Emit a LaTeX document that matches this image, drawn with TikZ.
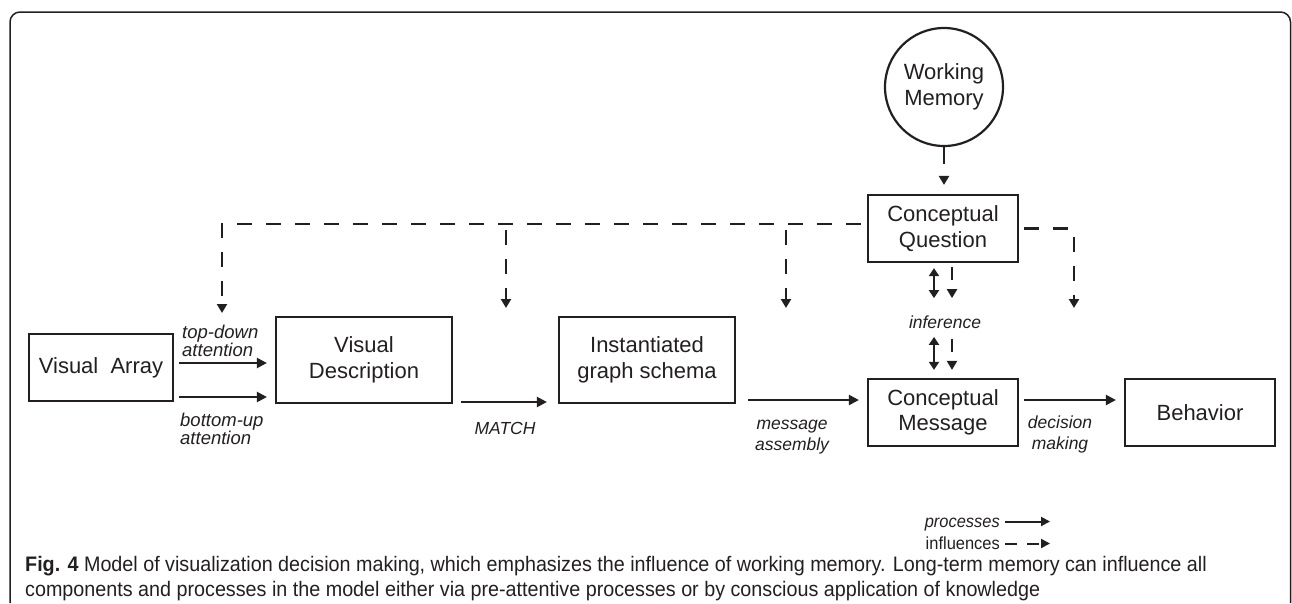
\documentclass[tikz,border=0pt]{standalone}
\usepackage{fontspec}
\setmainfont{Liberation Sans}
\newfontfamily\capfont[FakeStretch=0.94]{Liberation Sans}
\usetikzlibrary{arrows.meta,calc}
\definecolor{ink}{HTML}{231F20}
\begin{document}
\begin{tikzpicture}[x=1pt,y=-1pt,
  box/.style={draw=ink,line width=2.2pt,text=ink,align=center,inner sep=0pt,
    font=\fontsize{22}{25.5}\selectfont},
  lbl/.style={text=ink,inner sep=0pt,font=\fontsize{17.5}{21}\selectfont\itshape},
  tight/.style={font=\fontsize{18.5}{17}\selectfont\itshape},
  leg/.style={text=ink,inner sep=0pt,font=\capfont\fontsize{17.5}{20}\selectfont},
  proc/.style={draw=ink,line width=2.2pt,-{Triangle[length=10pt,width=10pt]}},
  infl/.style={draw=ink,line width=2.2pt,dash pattern=on 15pt off 14pt,-{Triangle[length=9pt,width=10pt]}},
  dbl/.style={draw=ink,line width=2.2pt,{Triangle[length=8pt,width=10pt]}-{Triangle[length=8pt,width=10pt]}}]
\useasboundingbox (0,0) rectangle (1292,603);
% frame
\draw[ink,line width=1.5pt,rounded corners=10pt] (10,603) -- (10,12) -- (1290.5,12) -- (1290.5,603);

% nodes
\node[box,minimum width=144pt,minimum height=67pt] (va) at (101,367.5) {Visual\ \ Array};
\node[box,minimum width=176pt,minimum height=86pt] (vd) at (364,360) {Visual\\Description};
\node[box,minimum width=176pt,minimum height=86pt] (igs) at (647,360) {Instantiated\\graph schema};
\node[box,minimum width=150pt,minimum height=67pt] (cq) at (943,228.5) {Conceptual\\Question};
\node[box,minimum width=150pt,minimum height=67pt] (cm) at (943,412.5) {Conceptual\\Message};
\node[box,minimum width=150pt,minimum height=67pt] (beh) at (1200,412.5) {Behavior};
\node[box,circle,minimum size=118pt] (wm) at (944,87) {Working\\Memory};

% labels
\node[lbl,tight,align=left,anchor=west] (ltd) at (182,341) {top-down\\attention};
\node[lbl,tight,align=left,anchor=west] (lbu) at (180,429) {bottom-up\\attention};
\node[lbl] (lm) at (505,428) {MATCH};
\node[lbl,align=center] (lma) at (792,437) {message\\assembly};
\node[lbl] (linf) at (945,322) {inference};
\node[lbl,align=center] (ldm) at (1060,434) {decision\\making};

% process arrows
\coordinate (yTD) at (0,363);
\coordinate (yBU) at (0,397);
\coordinate (yM) at (0,402);
\coordinate (yA) at (0,400);
\draw[proc] ($(va.east|-yTD)+(5,0)$) -- ($(vd.west|-yTD)+(-8,0)$);
\draw[proc] ($(va.east|-yBU)+(5,0)$) -- ($(vd.west|-yBU)+(-8,0)$);
\draw[proc] ($(vd.east|-yM)+(8,0)$) -- ($(igs.west|-yM)+(-11,0)$);
\draw[proc] ($(igs.east|-yA)+(12,0)$) -- ($(cm.west|-yA)+(-8,0)$);
\draw[proc] ($(cm.east|-yA)+(5,0)$) -- ($(beh.west|-yA)+(-8,0)$);

% inference double arrows
\coordinate (xL) at (934,0);
\coordinate (xR) at (952,0);
\draw[dbl] ($(cq.south-|xL)+(0,5)$) -- ($(cq.south-|xL)+(0,35)$);
\draw[dbl] ($(cm.north-|xL)+(0,-41)$) -- ($(cm.north-|xL)+(0,-8)$);
\draw[infl,dash pattern=on 13pt off 20pt] ($(cq.south-|xR)+(0,4)$) -- ($(cq.south-|xR)+(0,35)$);
\draw[infl,dash pattern=on 13pt off 20pt] ($(cm.north-|xR)+(0,-39)$) -- ($(cm.north-|xR)+(0,-8)$);

% working memory influence
\draw[infl,dash pattern=on 17pt off 20pt] (wm.south) -- ($(cq.north-|wm.south)+(0,-9)$);

% influence network
\coordinate (hy) at (0,224);
\coordinate (t1) at (222,313);
\coordinate (t2) at (506,308);
\coordinate (t3) at (786,308);
\coordinate (t4) at (1074,308);
\draw[infl] ($(cq.west|-hy)+(-6,0)$) -| (t1);
\draw[infl] ($(t2|-hy)+(0,6)$) -- (t2);
\draw[infl] ($(t3|-hy)+(0,6)$) -- (t3);
\draw[infl] ($(cq.east)+(5,0)$) -| (t4);

% legend
\node[leg,font=\capfont\fontsize{17.5}{20}\selectfont\itshape,anchor=base east] (lp) at (1000,527) {processes};
\node[leg,anchor=base east] (li) at (1000,549) {influences};
\draw[proc,line width=2pt,-{Triangle[length=9pt,width=9pt]}] ($(lp.base east)+(5,-5.5)$) -- ($(lp.base east)+(50,-5.5)$);
\draw[infl,line width=2pt,dash pattern=on 12pt off 10pt,-{Triangle[length=9pt,width=9pt]}] ($(li.base east)+(5,-5.5)$) -- ($(li.base east)+(50,-5.5)$);

% caption
\node[anchor=base west,inner sep=0pt,text=ink,font=\capfont\fontsize{21}{24}\selectfont] (cap1) at (25,571)
  {\textbf{Fig. 4} Model of visualization decision making, which emphasizes the influence of working memory. Long-term memory can influence all};
\node[anchor=base west,inner sep=0pt,text=ink,font=\capfont\fontsize{21}{24}\selectfont] (cap2) at (25,596)
  {components and processes in the model either via pre-attentive processes or by conscious application of knowledge};
\end{tikzpicture}
\end{document}
